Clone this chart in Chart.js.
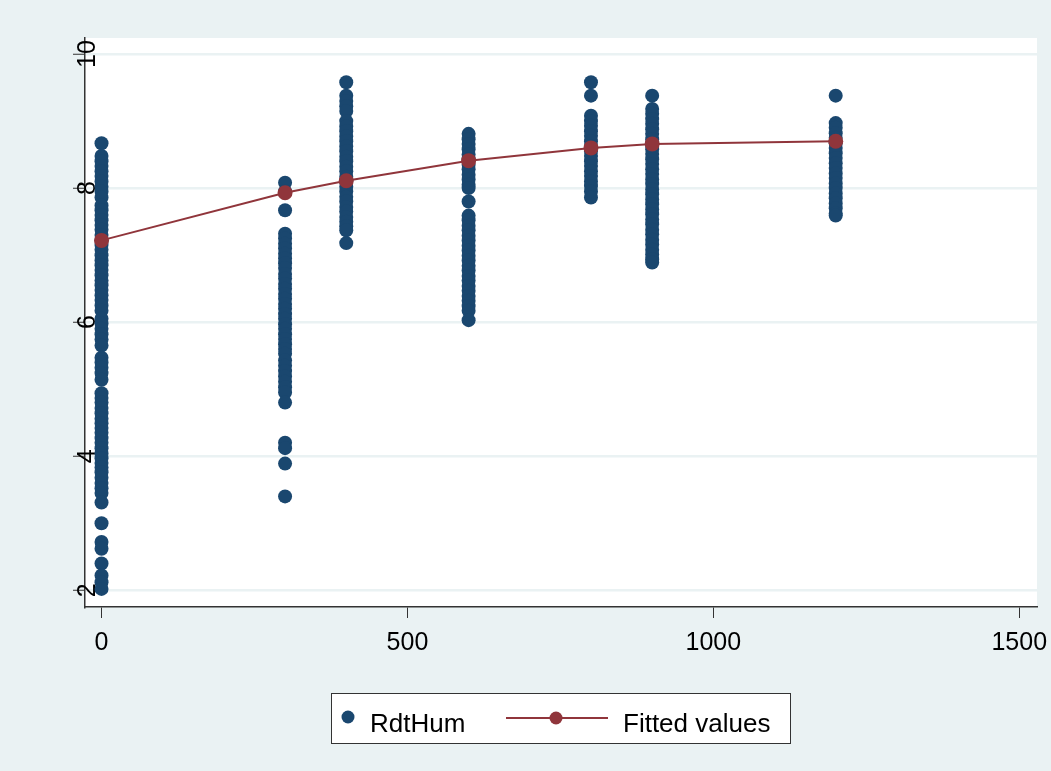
<!DOCTYPE html>
<html>
<head>
<meta charset="utf-8">
<script src="https://cdn.jsdelivr.net/npm/chart.js@4/dist/chart.umd.min.js"></script>
<style>
  html, body { margin: 0; padding: 0; background: #EAF2F3; }
  canvas { display: block; }
</style>
</head>
<body>
<canvas id="chart" width="1051" height="771"></canvas>
<script>
// values
const doseLevels = [0, 300, 400, 600, 800, 900, 1200];

const rdt0 = [8.67,
  8.48, 8.40, 8.33, 8.25, 8.18, 8.10, 8.02, 7.95, 7.86,
  7.74, 7.67, 7.60, 7.52, 7.45, 7.38, 7.30, 7.22, 7.15, 7.08, 7.00, 6.92, 6.85,
  6.78, 6.70, 6.62, 6.55, 6.48, 6.40, 6.33, 6.25, 6.17,
  6.05, 5.98, 5.90, 5.82, 5.74, 5.65,
  5.47, 5.40, 5.32, 5.24, 5.14,
  4.94, 4.87, 4.80, 4.72, 4.64, 4.56, 4.49,
  4.42, 4.35, 4.27, 4.20, 4.12, 4.04, 3.97, 3.90, 3.83,
  3.76, 3.68, 3.60, 3.52, 3.45,
  3.31, 3.00, 2.72, 2.62, 2.40, 2.22, 2.12, 2.02];
const rdt300 = [8.08, 7.95, 7.67,
  7.32, 7.25, 7.17, 7.10, 7.02, 6.95, 6.88, 6.81, 6.72, 6.65, 6.57, 6.50, 6.42,
  6.35, 6.27, 6.20, 6.12, 6.05, 5.97, 5.90, 5.82, 5.75, 5.67, 5.60, 5.53,
  5.43, 5.35, 5.27, 5.19, 5.11, 5.03, 4.95, 4.80, 4.20, 4.12, 3.89, 3.40];
const rdt400 = [9.58, 9.38, 9.30, 9.22, 9.15,
  9.00, 8.92, 8.85, 8.77, 8.70, 8.62, 8.55, 8.47, 8.40, 8.32, 8.25, 8.17, 8.10,
  8.02, 7.95, 7.87, 7.80, 7.72, 7.65, 7.57, 7.50, 7.43, 7.37, 7.18];
const rdt600 = [8.81, 8.73, 8.66, 8.58, 8.50, 8.43, 8.35, 8.28, 8.20, 8.13, 8.05, 8.00,
  7.80,
  7.59, 7.52, 7.44, 7.37, 7.29, 7.22, 7.14, 7.07, 6.99, 6.92, 6.84, 6.77, 6.69,
  6.62, 6.54, 6.47, 6.39, 6.32, 6.24, 6.17, 6.03];
const rdt800 = [9.58, 9.38,
  9.08, 9.00, 8.93, 8.85, 8.78, 8.70, 8.63, 8.55, 8.48, 8.40, 8.33, 8.25, 8.18,
  8.10, 8.03, 7.95, 7.86];
const rdt900 = [9.38,
  9.18, 9.11, 9.03, 8.96, 8.88, 8.81, 8.73, 8.66, 8.58, 8.51, 8.43, 8.36, 8.28,
  8.21, 8.13, 8.06, 7.98, 7.91, 7.83, 7.76, 7.68, 7.61, 7.53, 7.46, 7.38, 7.31,
  7.23, 7.16, 7.08, 7.01, 6.94, 6.89];
const rdt1200 = [9.38,
  8.97, 8.90, 8.82, 8.75, 8.67, 8.60, 8.52, 8.45, 8.37, 8.30, 8.22, 8.15, 8.07,
  8.00, 7.92, 7.85, 7.77, 7.70, 7.62, 7.59];

const fittedValues = [7.22, 7.93, 8.11, 8.41, 8.60, 8.66, 8.70];

const xTicks = [0, 500, 1000, 1500];
const yTicks = [2, 4, 6, 8, 10];

const colors = {
  navy: '#1A476F',
  maroon: '#90353B',
  bg: '#EAF2F3',
  grid: '#EAF2F3',
  axis: '#333333',
  text: '#000000',
};

const FONT = "'Liberation Sans', Arial, sans-serif";
Chart.defaults.font.family = FONT;
Chart.defaults.color = colors.text;

const rdtColumns = [rdt0, rdt300, rdt400, rdt600, rdt800, rdt900, rdt1200];
const scatterPoints = [];
rdtColumns.forEach((col, i) => {
  col.forEach(v => scatterPoints.push({ x: doseLevels[i], y: v }));
});
const fittedPoints = doseLevels.map((x, i) => ({ x, y: fittedValues[i] }));

// paint the grey page and the white plot region
const backdrop = {
  id: 'backdrop',
  beforeDraw(chart) {
    const { ctx, chartArea: a } = chart;
    ctx.save();
    ctx.fillStyle = colors.bg;
    ctx.fillRect(0, 0, chart.width, chart.height);
    ctx.fillStyle = '#ffffff';
    ctx.fillRect(a.left, a.top, a.right - a.left, a.bottom - a.top);
    ctx.restore();
  },
};

// Stata style boxed legend under the plot
const boxLegend = {
  id: 'boxLegend',
  afterDraw(chart) {
    const { ctx } = chart;
    const ds = chart.data.datasets;
    ctx.save();
    ctx.fillStyle = '#ffffff';
    ctx.fillRect(331, 693, 459, 50);
    ctx.strokeStyle = colors.axis;
    ctx.lineWidth = 1;
    ctx.strokeRect(331.5, 693.5, 459, 50);

    ctx.fillStyle = colors.navy;
    ctx.beginPath();
    ctx.arc(348, 717, 6.5, 0, Math.PI * 2);
    ctx.fill();

    ctx.strokeStyle = colors.maroon;
    ctx.lineWidth = 2;
    ctx.beginPath();
    ctx.moveTo(506, 718);
    ctx.lineTo(608, 718);
    ctx.stroke();
    ctx.fillStyle = colors.maroon;
    ctx.beginPath();
    ctx.arc(556, 718, 6.5, 0, Math.PI * 2);
    ctx.fill();

    ctx.fillStyle = colors.text;
    ctx.font = '26px ' + FONT;
    ctx.textBaseline = 'alphabetic';
    ctx.fillText(ds[0].label, 370, 732);
    ctx.fillText(ds[1].label, 623, 732);
    ctx.restore();
  },
};

new Chart(document.getElementById('chart'), {
  type: 'scatter',
  data: {
    datasets: [
      {
        label: 'RdtHum',
        data: scatterPoints,
        backgroundColor: colors.navy,
        borderColor: colors.navy,
        borderWidth: 0,
        pointRadius: 7,
        order: 2,
      },
      {
        label: 'Fitted values',
        type: 'line',
        data: fittedPoints,
        showLine: true,
        borderColor: colors.maroon,
        backgroundColor: colors.maroon,
        borderWidth: 2,
        pointRadius: 7.5,
        pointBorderWidth: 0,
        tension: 0,
        fill: false,
        order: 1,
      },
    ],
  },
  options: {
    responsive: false,
    animation: false,
    layout: { padding: { left: 0, top: 38, right: 14, bottom: 0 } },
    plugins: {
      legend: { display: false },
      tooltip: { enabled: false },
    },
    scales: {
      x: {
        type: 'linear',
        min: -27,
        max: 1529,
        afterBuildTicks: s => { s.ticks = xTicks.map(v => ({ value: v })); },
        afterFit: s => {
          s.height = 164;
          s.paddingLeft = 0;
          s.paddingRight = 0;
        },
        grid: {
          drawOnChartArea: false,
          tickLength: 11,
          tickColor: colors.axis,
          tickWidth: 1,
        },
        border: { color: colors.axis, width: 1.5 },
        ticks: {
          font: { size: 25 },
          color: colors.text,
          padding: 10,
          maxRotation: 0,
          autoSkip: false,
          callback: v => String(v),
        },
      },
      y: {
        type: 'linear',
        min: 1.75,
        max: 10.24,
        afterBuildTicks: s => { s.ticks = yTicks.map(v => ({ value: v })); },
        afterFit: s => {
          s.width = 85;
          s.paddingTop = 0;
          s.paddingBottom = 0;
        },
        grid: {
          color: colors.grid,
          lineWidth: 2.5,
          tickLength: 12,
          tickColor: colors.axis,
          tickWidth: 1,
        },
        border: { color: colors.axis, width: 1.5 },
        ticks: {
          font: { size: 25 },
          color: colors.text,
          mirror: true,
          minRotation: 90,
          maxRotation: 90,
          crossAlign: 'center',
          padding: -11,
          autoSkip: false,
          callback: v => String(v),
        },
      },
    },
  },
  plugins: [backdrop, boxLegend],
});
</script>
</body>
</html>
